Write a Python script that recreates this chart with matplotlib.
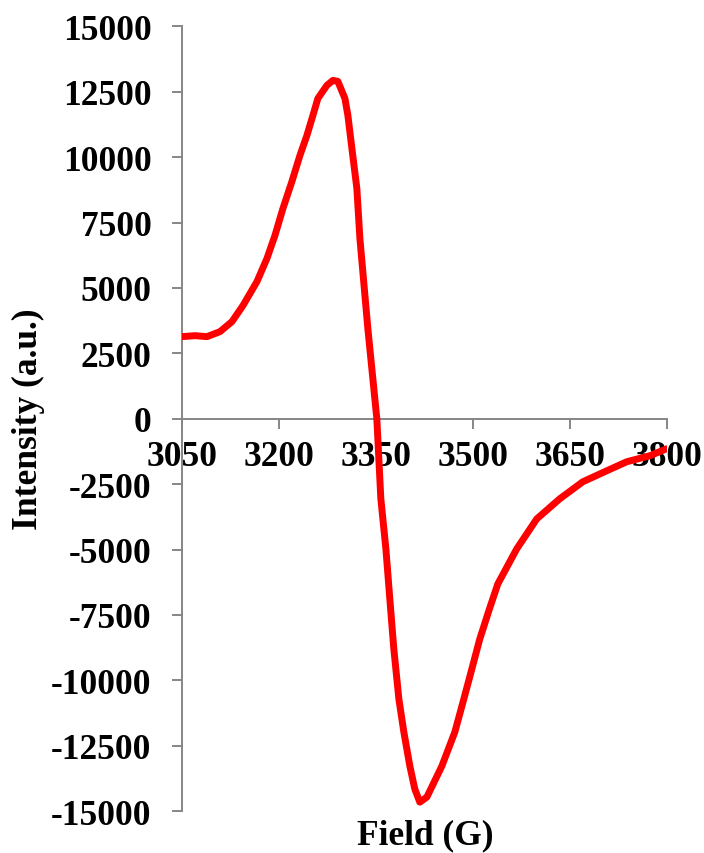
import matplotlib.pyplot as plt

# EPR spectrum, field in gauss vs intensity
field = [3050, 3070.1, 3088.7, 3108.8, 3127.3, 3144.3, 3166.0, 3181.4, 3193.8,
         3206.2, 3220.1, 3232.5, 3243.3, 3252.6, 3260.3, 3274.2, 3283.5, 3291.2,
         3302.1, 3306.7, 3312.9, 3320.6, 3325.3, 3337.6, 3351.5, 3357.7, 3365.5,
         3371.6, 3377.8, 3385.6, 3393.3, 3402.6, 3410.3, 3418.0, 3428.9, 3452.1,
         3472.2, 3486.1, 3498.5, 3510.8, 3524.7, 3538.7, 3568.0, 3599.0, 3634.5,
         3670.1, 3707.2, 3738.1, 3773.7, 3800]
intensity = [3138, 3176, 3138, 3329, 3712, 4324, 5242, 6122, 7002,
             8036, 9069, 10064, 10829, 11594, 12245, 12742, 12934, 12895,
             12245, 11594, 10332, 8801, 6888, 3444, 0, -3061, -4974,
             -6888, -8801, -10714, -11977, -13278, -14158, -14655, -14464, -13278,
             -11977, -10714, -9566, -8418, -7347, -6314, -4974, -3827, -3061,
             -2411, -1990, -1645, -1416, -1148]

x_ticks = [3050, 3200, 3350, 3500, 3650, 3800]
y_ticks = list(range(-15000, 15001, 2500))

plt.rcParams['font.family'] = 'Liberation Serif'
plt.rcParams['font.weight'] = 'bold'
plt.rcParams['axes.unicode_minus'] = False

fig = plt.figure(figsize=(7.04, 8.54), dpi=100)
ax = fig.add_axes([0.2585, 0.049, 0.6885, 0.919])

ax.plot(field, intensity, color='#ff0000', linewidth=5, zorder=3,
        solid_capstyle='round', solid_joinstyle='round')

ax.set_xlim(3050, 3800)
ax.set_ylim(-15000, 15000)
ax.set_xticks(x_ticks)
ax.set_yticks(y_ticks)

ax.spines['top'].set_visible(False)
ax.spines['right'].set_visible(False)
ax.spines['bottom'].set_position(('data', 0))
for side in ['left', 'bottom']:
    ax.spines[side].set_color('#868686')
    ax.spines[side].set_linewidth(1.4)

ax.tick_params(axis='both', color='#868686', width=1.4, length=7,
               direction='out', labelsize=25.5)
ax.tick_params(axis='y', pad=15)
ax.tick_params(axis='x', pad=8)
for lab in ax.get_xticklabels() + ax.get_yticklabels():
    lab.set_fontweight('bold')

fig.text(28 / 704, 0.5085, 'Intensity (a.u.)', rotation=90, fontsize=25.5,
         fontweight='bold', ha='center', va='center')
fig.text(425 / 704, 1 - 836 / 854, 'Field (G)', fontsize=25.5,
         fontweight='bold', ha='center', va='center')

plt.savefig('out.png', dpi=100)
plt.close()
